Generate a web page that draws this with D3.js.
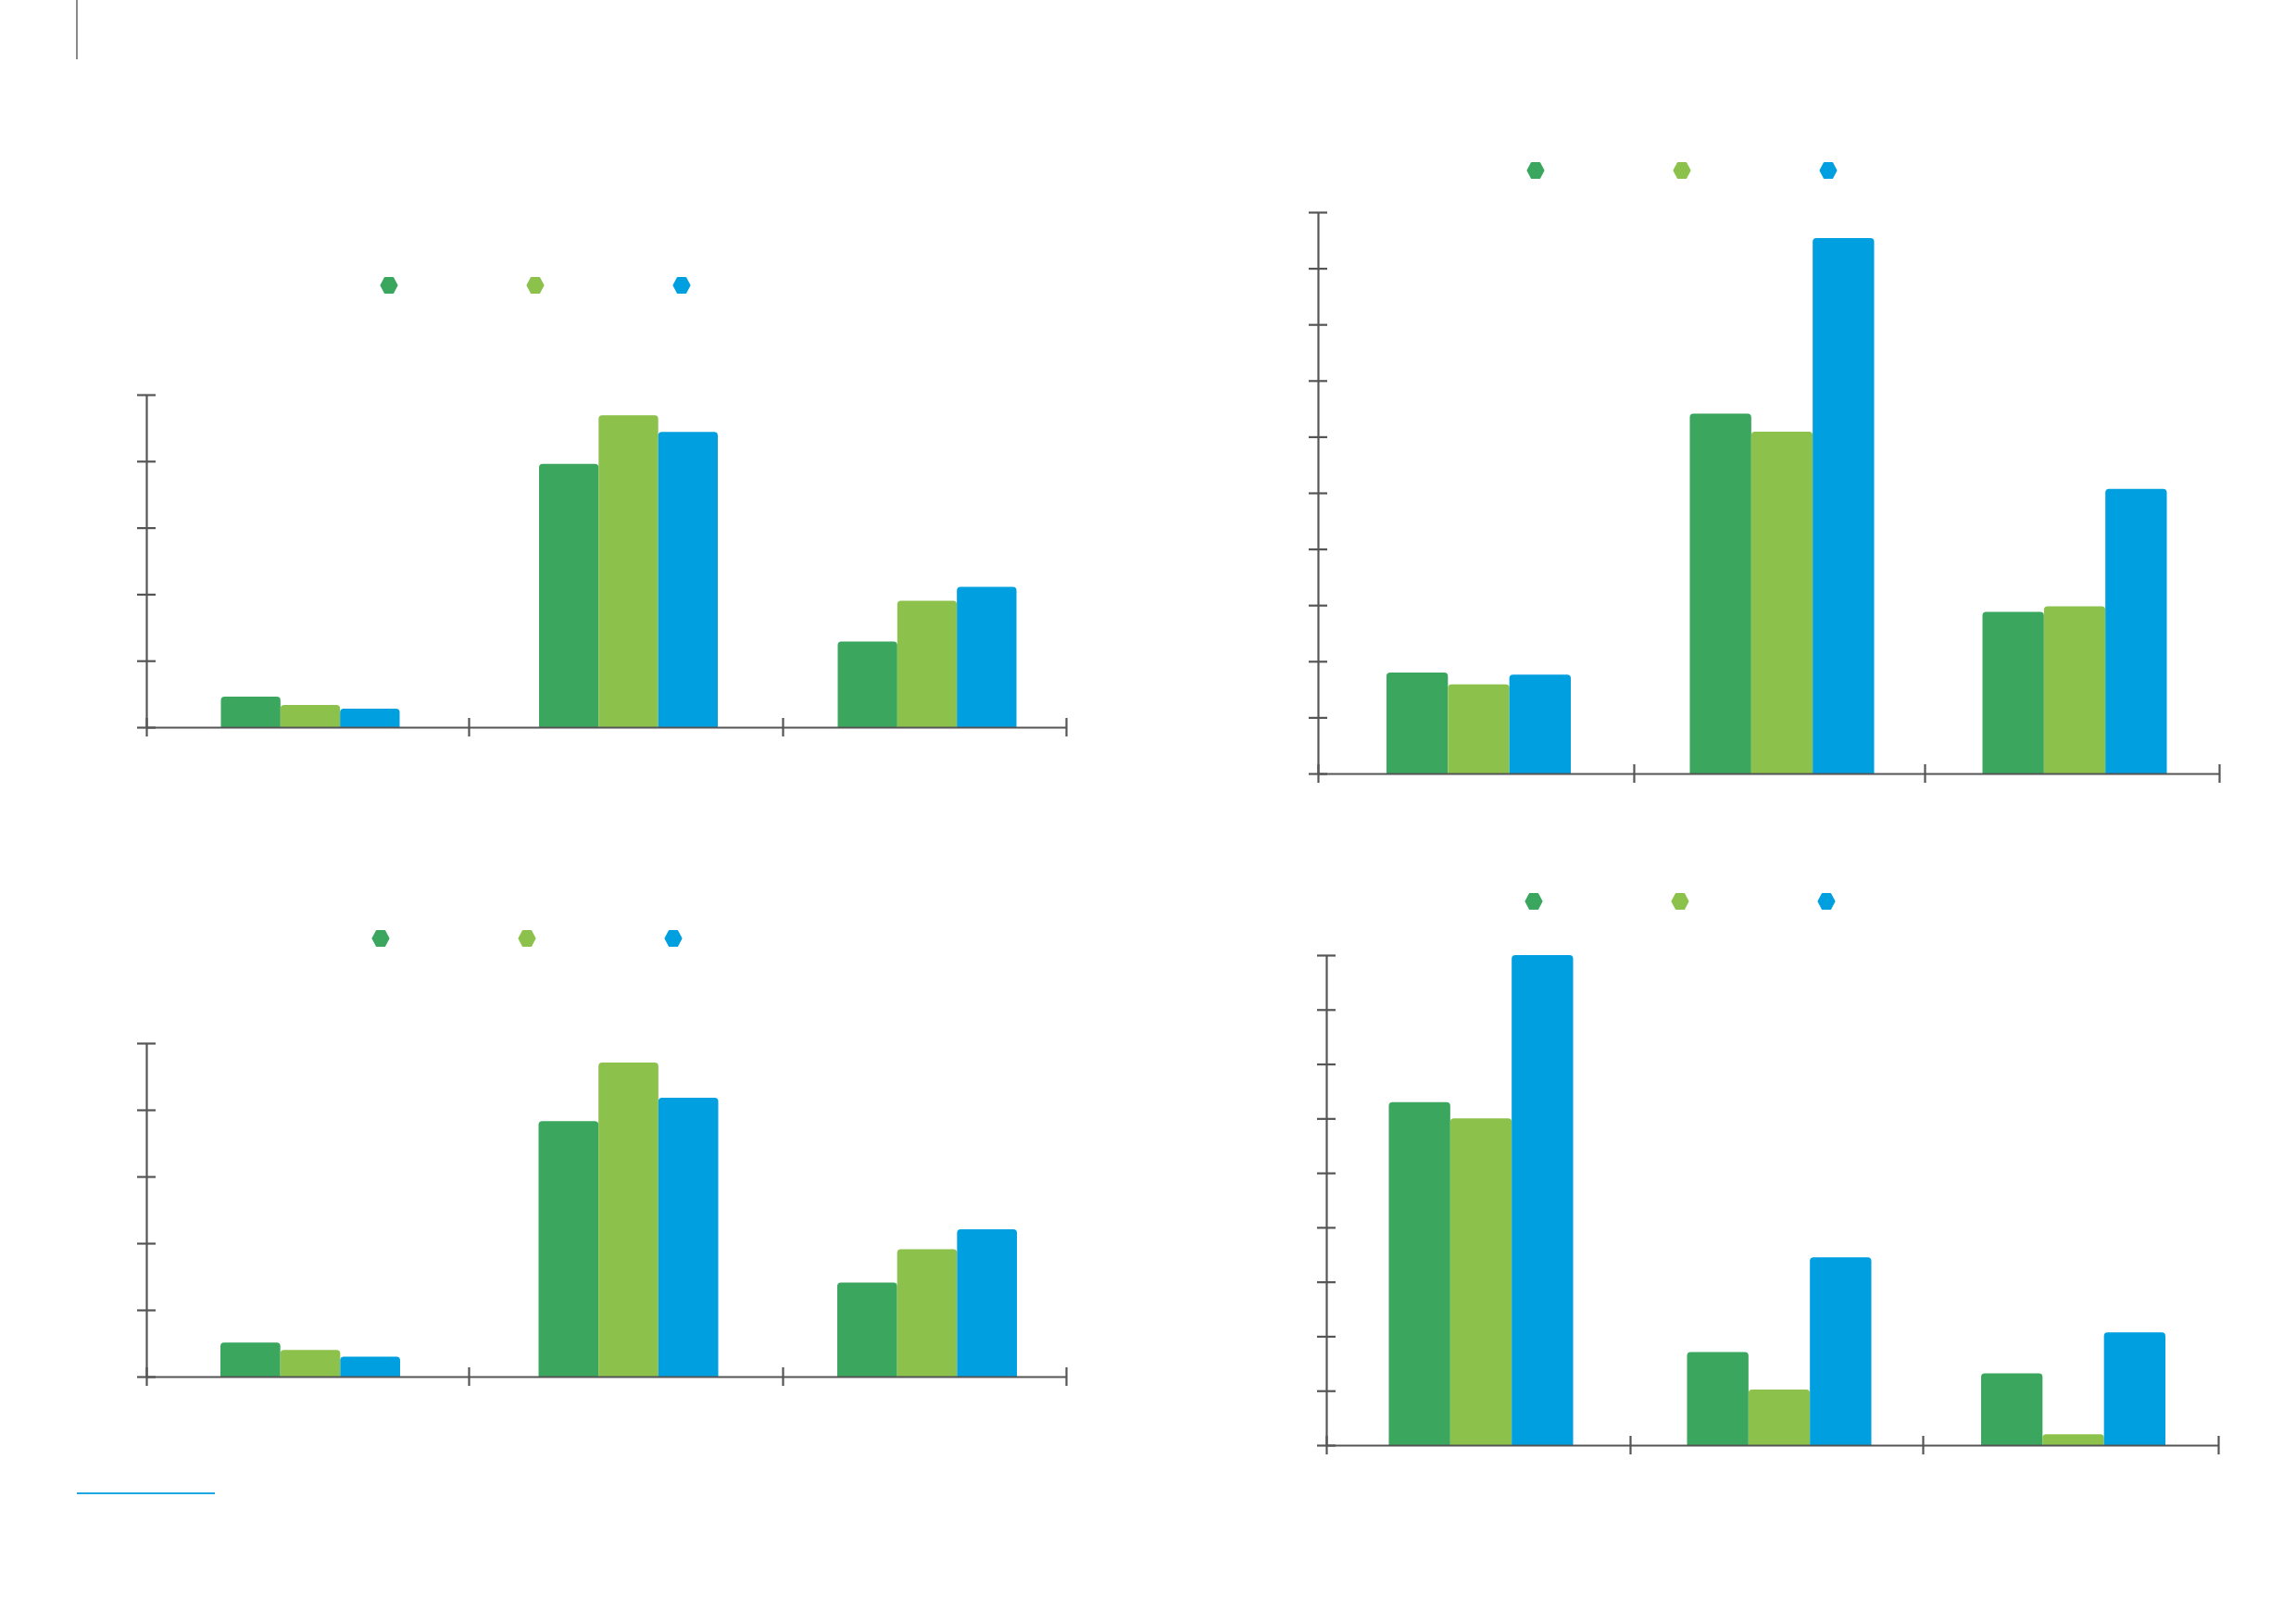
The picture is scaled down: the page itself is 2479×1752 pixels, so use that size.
<!DOCTYPE html>
<html>
<head>
<meta charset="utf-8">
<script src="https://cdn.jsdelivr.net/npm/d3@7"></script>
<style>
  body { margin: 0; background: #fff; }
  svg { display: block; }
</style>
</head>
<body>
<script>
// page size
var w = 2479;
var h = 1752;

// data: three groups, three series each (no labels printed on the page)
var categories = ["A", "B", "C"];
var seriesNames = ["s1", "s2", "s3"];
var seriesColors = ["#3aa65e", "#8cc24c", "#009fe0"];

var topLeftValues = [[4.6, 3.35, 2.8], [39.6, 46.9, 44.4], [12.9, 19.0, 21.1]];
var bottomLeftValues = [[5.1, 4.0, 3.0], [38.3, 47.1, 41.8], [14.1, 19.1, 22.1]];
var topRightValues = [[18.0, 15.9, 17.6], [64.1, 60.9, 95.4], [28.8, 29.8, 50.7]];
var bottomRightValues = [[63.0, 60.0, 90.0], [17.1, 10.2, 34.5], [13.2, 2.0, 20.7]];

var topLeftTicks = [0, 10, 20, 30, 40, 50];
var bottomLeftTicks = [0, 10, 20, 30, 40, 50];
var topRightTicks = [0, 10, 20, 30, 40, 50, 60, 70, 80, 90, 100];
var bottomRightTicks = [0, 10, 20, 30, 40, 50, 60, 70, 80, 90];

// layout of each panel (pixels)
var panels = [
  { values: topLeftValues, ticks: topLeftTicks,
    bounds: [158, 506, 845, 1151], base: 785, top: 426, groupW: 193,
    legendX: 420, legendY: 308 },
  { values: bottomLeftValues, ticks: bottomLeftTicks,
    bounds: [158, 506, 845, 1151], base: 1486, top: 1126, groupW: 194,
    legendX: 411, legendY: 1013 },
  { values: topRightValues, ticks: topRightTicks,
    bounds: [1423, 1764, 2078, 2396], base: 835, top: 229, groupW: 199,
    legendX: 1658, legendY: 184 },
  { values: bottomRightValues, ticks: bottomRightTicks,
    bounds: [1432, 1760, 2076, 2395], base: 1560, top: 1031, groupW: 199,
    legendX: 1656, legendY: 973 }
];

var axisColor = "#555555";
var legendStep = 158;

var svg = d3.select("body")
  .append("svg")
  .attr("width", w)
  .attr("height", h);

svg.append("rect")
  .attr("width", w)
  .attr("height", h)
  .attr("fill", "#fff");

// thin page rule top left and blue rule bottom left
svg.append("line")
  .attr("x1", 83).attr("x2", 83)
  .attr("y1", 0).attr("y2", 64)
  .attr("stroke", "#6d6d6d")
  .attr("stroke-width", 1.6);

svg.append("line")
  .attr("x1", 83).attr("x2", 232)
  .attr("y1", 1612).attr("y2", 1612)
  .attr("stroke", "#1fa6e0")
  .attr("stroke-width", 2.2);

// bar with rounded top corners
function barPath(x, y, bw, bh, r) {
  r = Math.min(r, bh, bw / 2);
  return "M" + x + "," + (y + bh) +
    "V" + (y + r) +
    "Q" + x + "," + y + " " + (x + r) + "," + y +
    "H" + (x + bw - r) +
    "Q" + (x + bw) + "," + y + " " + (x + bw) + "," + (y + r) +
    "V" + (y + bh) + "Z";
}

// hexagon marker, points left and right, about as tall as it is wide
function hexPoints(cx, cy, rx, ry) {
  return [
    [cx - rx, cy], [cx - rx / 2, cy - ry], [cx + rx / 2, cy - ry],
    [cx + rx, cy], [cx + rx / 2, cy + ry], [cx - rx / 2, cy + ry]
  ];
}

panels.forEach(function(p) {
  var g = svg.append("g");

  var xScale = d3.scaleLinear()
    .domain([0, 1, 2, 3])
    .range(p.bounds);

  var inner = d3.scaleBand()
    .domain(seriesNames)
    .range([-p.groupW / 2, p.groupW / 2]);

  var yScale = d3.scaleLinear()
    .domain([0, d3.max(p.ticks)])
    .range([p.base, p.top]);

  //Create bars
  categories.forEach(function(c, i) {
    var cx = xScale(i + 0.5) + 3;
    g.selectAll(null)
      .data(p.values[i])
      .enter()
      .append("path")
      .attr("d", function(d, j) {
        var x = cx + inner(seriesNames[j]);
        return barPath(x, yScale(d), inner.bandwidth(), p.base - yScale(d), 4);
      })
      .attr("fill", function(d, j) { return seriesColors[j]; });
  });

  //y axis
  var yAxis = g.append("g")
    .attr("transform", "translate(" + p.bounds[0] + ",0)")
    .call(d3.axisLeft(yScale).tickValues(p.ticks).tickSizeOuter(0).tickFormat(""));
  yAxis.selectAll(".tick line").attr("x1", -10).attr("x2", 10);

  //x axis
  var xAxis = g.append("g")
    .attr("transform", "translate(0," + p.base + ")")
    .call(d3.axisBottom(xScale).tickValues([0, 1, 2, 3]).tickSizeOuter(0).tickFormat(""));
  xAxis.selectAll(".tick line").attr("y1", -10).attr("y2", 10);

  g.selectAll(".domain, .tick line")
    .attr("stroke", axisColor)
    .attr("stroke-width", 2.2);

  //legend markers
  g.selectAll(".legend")
    .data(seriesNames)
    .enter()
    .append("path")
    .attr("class", "legend")
    .attr("d", function(d, j) {
      return d3.line()(hexPoints(p.legendX + j * legendStep, p.legendY, 8.5, 8)) + "Z";
    })
    .attr("fill", function(d, j) { return seriesColors[j]; })
    .attr("stroke", function(d, j) { return seriesColors[j]; })
    .attr("stroke-width", 2)
    .attr("stroke-linejoin", "round");
});
</script>
</body>
</html>
